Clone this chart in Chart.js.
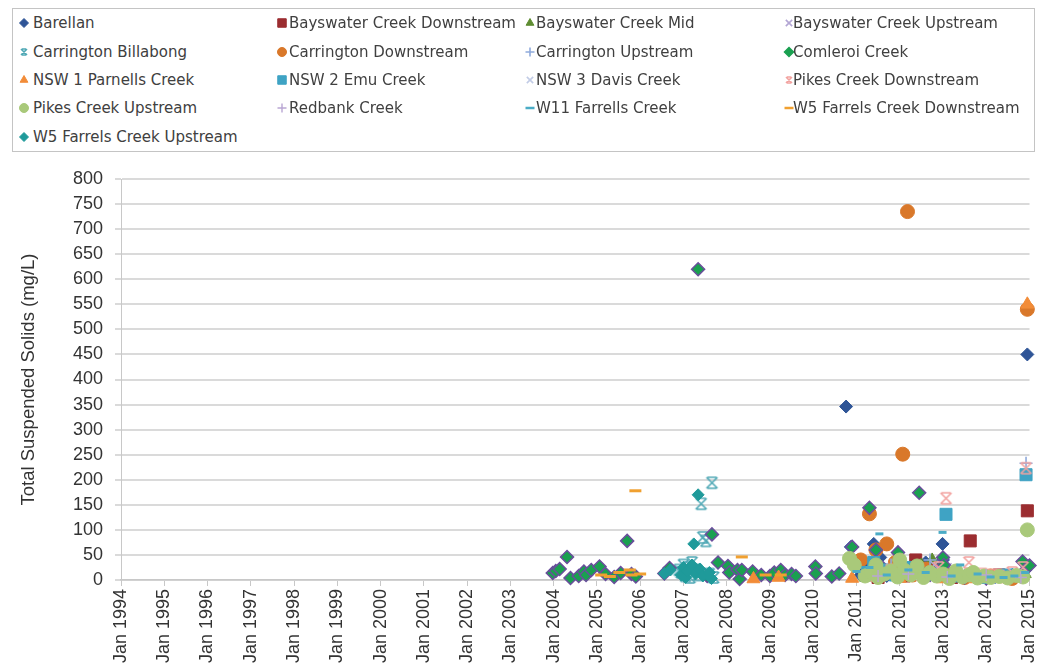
<!DOCTYPE html>
<html>
<head>
<meta charset="utf-8">
<script src="https://cdn.jsdelivr.net/npm/chart.js@4/dist/chart.umd.min.js"></script>
<style>
    body { margin: 0; background: #fff; width: 1039px; height: 672px; overflow: hidden; position: relative; }
    #tss-chart { position: absolute; left: 0; top: 0; }
    #legend { position: absolute; left: 12px; top: 8px; width: 1023px; height: 144px; border: 1px solid #c4c4c4; box-sizing: border-box; background: #fff; }
    .leg-mark { position: absolute; width: 16px; height: 16px; }
    .leg-text { position: absolute; font-family: "DejaVu Sans", sans-serif; font-size: 15px; color: #404040; white-space: nowrap; line-height: 18px; }
</style>
</head>
<body>
<canvas id="tss-chart" width="1039" height="672"></canvas>
<div id="legend"></div>
<script>
// sample dates as decimal years, values in mg/L
const seriesNames = [
    'Barellan', 'Bayswater Creek Downstream', 'Bayswater Creek Mid', 'Bayswater Creek Upstream',
    'Carrington Billabong', 'Carrington Downstream', 'Carrington Upstream', 'Comleroi Creek',
    'NSW 1 Parnells Creek', 'NSW 2 Emu Creek', 'NSW 3 Davis Creek', 'Pikes Creek Downstream',
    'Pikes Creek Upstream', 'Redbank Creek', 'W11 Farrells Creek', 'W5 Farrels Creek Downstream',
    'W5 Farrels Creek Upstream'
];

const barellan = [[2010.76, 346], [2010.87, 66], [2011.1, 10], [2011.3, 30], [2011.4, 72], [2011.55, 45],
    [2011.7, 8], [2011.9, 20], [2012.2, 15], [2012.4, 12], [2012.6, 35], [2012.99, 72], [2013.0, 40],
    [2013.05, 22], [2013.5, 8], [2013.8, 6], [2014.2, 5], [2014.6, 10], [2014.9, 20], [2014.95, 450]];
const bayswaterDown = [[2011.5, 5], [2011.75, 15], [2012.1, 8], [2012.37, 40], [2012.8, 20], [2013.2, 5],
    [2013.63, 78], [2014.3, 10], [2014.95, 138]];
const bayswaterMid = [[2011.2, 5], [2011.5, 10], [2012.0, 25], [2012.5, 30], [2012.75, 40], [2013.0, 15],
    [2013.4, 5], [2014.0, 8], [2014.9, 12]];
const bayswaterUp = [[2011.3, 10], [2011.9, 20], [2012.5, 15], [2012.8, 30], [2013.1, 25], [2013.7, 12],
    [2014.3, 8], [2014.9, 20]];
const carringtonBillabong = [[2006.9, 20], [2006.95, 15], [2007.0, 30], [2007.05, 8], [2007.1, 25],
    [2007.15, 5], [2007.2, 35], [2007.3, 20], [2007.35, 10], [2007.41, 152], [2007.45, 85], [2007.52, 78],
    [2007.6, 12], [2007.66, 194], [2007.7, 5]];
const carringtonDown = [[2011.1, 40], [2011.3, 132], [2011.45, 60], [2011.5, 20], [2011.7, 72], [2011.9, 35],
    [2012.07, 251], [2012.18, 735], [2012.3, 10], [2012.6, 22], [2013.0, 15], [2013.5, 5], [2014.1, 8],
    [2014.6, 3], [2014.95, 540]];
const carringtonUp = [[2011.25, 15], [2011.8, 30], [2012.4, 20], [2012.7, 40], [2013.0, 25], [2013.5, 10],
    [2014.2, 5], [2014.92, 233]];
const comleroi = [[2003.98, 14], [2004.05, 18], [2004.14, 22], [2004.31, 46], [2004.39, 4], [2004.58, 8],
    [2004.7, 17], [2004.75, 10], [2004.87, 20], [2005.06, 27], [2005.2, 12], [2005.4, 6], [2005.55, 14],
    [2005.7, 78], [2005.8, 12], [2005.9, 7], [2006.56, 13], [2006.68, 24], [2007.34, 620], [2007.55, 8],
    [2007.66, 91], [2007.8, 35], [2008.03, 28], [2008.06, 15], [2008.25, 20], [2008.3, 2], [2008.35, 20],
    [2008.6, 17], [2008.8, 10], [2009.0, 8], [2009.1, 15], [2009.25, 20], [2009.35, 10], [2009.5, 12],
    [2009.6, 8], [2010.05, 27], [2010.06, 13], [2010.43, 7], [2010.6, 13], [2010.9, 66], [2011.3, 144],
    [2011.45, 60], [2011.6, 25], [2011.96, 55], [2012.2, 20], [2012.45, 174], [2012.7, 10], [2013.0, 45],
    [2013.02, 30], [2013.5, 5], [2014.0, 3], [2014.4, 8], [2014.84, 37], [2015.0, 29]];
const nsw1Parnells = [[2008.62, 2], [2009.2, 5], [2010.9, 3], [2011.5, 5], [2012.0, 3], [2012.5, 8],
    [2013.0, 2], [2013.4, 5], [2013.75, 2], [2014.05, 4], [2014.2, 3], [2014.45, 2], [2014.7, 6],
    [2014.95, 550]];
const nsw2Emu = [[2011.25, 15], [2011.4, 35], [2011.6, 20], [2011.9, 10], [2012.3, 25], [2012.7, 12],
    [2013.07, 131], [2013.3, 8], [2013.9, 5], [2014.5, 10], [2014.92, 210]];
const nsw3Davis = [[2011.3, 5], [2011.8, 12], [2012.3, 8], [2012.9, 15], [2013.5, 10], [2014.1, 6], [2014.7, 12]];
const pikesDown = [[2011.3, 10], [2011.8, 20], [2012.4, 15], [2012.9, 25], [2013.07, 163], [2013.6, 35],
    [2013.9, 12], [2014.15, 10], [2014.3, 8], [2014.6, 15], [2014.85, 25], [2014.92, 223]];
const pikesUp = [[2010.84, 43], [2010.95, 30], [2011.2, 8], [2011.35, 15], [2011.45, 30], [2011.5, 5],
    [2011.65, 12], [2011.8, 18], [2011.95, 6], [2012.0, 40], [2012.1, 20], [2012.25, 10], [2012.4, 28],
    [2012.55, 5], [2012.7, 15], [2012.85, 8], [2013.0, 12], [2013.15, 3], [2013.3, 18], [2013.45, 6],
    [2013.6, 10], [2013.7, 15], [2013.8, 4], [2013.95, 8], [2014.1, 5], [2014.3, 7], [2014.5, 4], [2014.7, 9],
    [2014.85, 6], [2014.95, 100]];
const redbank = [[2011.5, 8], [2012.2, 12], [2013.1, 6], [2014.0, 10], [2014.8, 5]];
const w11Farrells = [[2011.0, 17], [2011.3, 25], [2011.53, 92], [2011.7, 10], [2012.2, 20], [2012.6, 15],
    [2012.99, 95], [2013.2, 8], [2013.4, 30], [2013.8, 12], [2014.1, 6], [2014.4, 5], [2014.65, 8],
    [2014.9, 15]];
const w5Down = [[2005.1, 10], [2005.3, 7], [2005.52, 15], [2005.76, 20], [2005.8, 10], [2005.89, 178],
    [2006.0, 12], [2007.5, 5], [2008.35, 46], [2008.9, 10], [2009.25, 10]];
const w5Up = [[2006.56, 13], [2006.7, 20], [2006.95, 10], [2007.0, 25], [2007.05, 5], [2007.1, 18],
    [2007.2, 30], [2007.24, 72], [2007.28, 12], [2007.34, 170], [2007.38, 22], [2007.45, 8], [2007.6, 15],
    [2007.65, 3]];

const allSeries = [barellan, bayswaterDown, bayswaterMid, bayswaterUp, carringtonBillabong, carringtonDown,
    carringtonUp, comleroi, nsw1Parnells, nsw2Emu, nsw3Davis, pikesDown, pikesUp, redbank, w11Farrells,
    w5Down, w5Up];

const yearTicks = { min: 1994, max: 2015 };

// Excel style star: an X with bars on top and bottom
function starMarker(color, size) {
    const c = document.createElement('canvas');
    c.width = size; c.height = size;
    const g = c.getContext('2d');
    g.strokeStyle = color;
    g.lineWidth = 1.6;
    const a = 2, b = size - 2;
    g.beginPath();
    g.moveTo(a, a); g.lineTo(b, b);
    g.moveTo(b, a); g.lineTo(a, b);
    g.moveTo(a + 1, a); g.lineTo(b - 1, a);
    g.moveTo(a + 1, b); g.lineTo(b - 1, b);
    g.stroke();
    return c;
}

const styles = [
    { shape: 'rectRot', r: 6.5, fill: '#2F5597' },
    { shape: 'rect', r: 8.5, fill: '#9B2D30' },
    { shape: 'triangle', r: 7, fill: '#5E8C31' },
    { shape: 'crossRot', r: 6, fill: '#B3A6D4', bw: 1.6 },
    { shape: 'star', r: 7, fill: '#4FA8B5' },
    { shape: 'circle', r: 7, fill: '#D9782A' },
    { shape: 'cross', r: 6.5, fill: '#8FAADC', bw: 1.6 },
    { shape: 'rectRot', r: 6.5, fill: '#1AA050', border: '#6A4E9C', bw: 1.5 },
    { shape: 'triangle', r: 7.5, fill: '#F28C38' },
    { shape: 'rect', r: 8.5, fill: '#3FA3C4' },
    { shape: 'crossRot', r: 6, fill: '#C2CCE6', bw: 1.6 },
    { shape: 'star', r: 7, fill: '#F2A3A0' },
    { shape: 'circle', r: 7, fill: '#A9C97A' },
    { shape: 'cross', r: 6, fill: '#B9A6D3', bw: 1.4 },
    { shape: 'line', r: 4, fill: '#4BACC6', bw: 3 },
    { shape: 'line', r: 6, fill: '#F0A030', bw: 3 },
    { shape: 'rectRot', r: 6, fill: '#1F9A9A' }
];

function pointStyleFor(st, size) {
    return st.shape === 'star' ? starMarker(st.fill, size) : st.shape;
}

const datasets = allSeries.map((pts, i) => {
    const st = styles[i];
    return {
        label: seriesNames[i],
        data: pts.map(p => ({ x: p[0], y: p[1] })),
        pointStyle: pointStyleFor(st, 15),
        pointRadius: st.r,
        pointBackgroundColor: st.fill,
        pointBorderColor: st.border || st.fill,
        pointBorderWidth: st.bw || 1,
        showLine: false,
        clip: false,
        order: allSeries.length - i
    };
});

const tickFont = { family: 'Liberation Sans', size: 18 };

const ctx = document.getElementById('tss-chart').getContext('2d');
new Chart(ctx, {
    type: 'scatter',
    data: { datasets: datasets },
    options: {
        responsive: false,
        animation: false,
        layout: { padding: { top: 179, left: 14, right: 9, bottom: 0 } },
        plugins: { legend: { display: false }, tooltip: { enabled: false } },
        scales: {
            x: {
                type: 'linear',
                min: yearTicks.min,
                max: yearTicks.max,
                afterFit: s => { s.height = 92; s.paddingLeft = 0; s.paddingRight = 0; },
                ticks: {
                    stepSize: 1,
                    autoSkip: false,
                    minRotation: 90,
                    maxRotation: 90,
                    padding: 3,
                    color: '#333',
                    font: tickFont,
                    callback: v => 'Jan ' + Math.round(v)
                },
                grid: { drawOnChartArea: false, color: '#c8c8c8', tickLength: 6 },
                border: { color: '#c8c8c8', width: 1.5 }
            },
            y: {
                min: 0,
                max: 800,
                afterFit: s => { s.width = 107; },
                ticks: {
                    stepSize: 50,
                    padding: 12,
                    color: '#333',
                    font: tickFont
                },
                grid: { color: '#dadada', lineWidth: 2, tickLength: 6 },
                border: { color: '#c8c8c8' },
                title: {
                    display: true,
                    text: 'Total Suspended Solids (mg/L)',
                    color: '#333',
                    font: { family: 'Liberation Sans', size: 18.5 }
                }
            }
        }
    }
});

// legend in four fixed columns, like the original
const legend = document.getElementById('legend');
const colMark = [24, 282, 530, 789];
const colText = [33, 289, 536, 793];
const rowY = [23, 52, 80, 108, 137];
seriesNames.forEach((name, i) => {
    const col = i % 4, row = Math.floor(i / 4);
    const st = styles[i];
    const mark = document.createElement('canvas');
    mark.width = 16; mark.height = 16;
    mark.className = 'leg-mark';
    mark.style.left = (colMark[col] - 13 - 8) + 'px';
    mark.style.top = (rowY[row] - 9 - 8) + 'px';
    const g = mark.getContext('2d');
    g.fillStyle = st.fill;
    g.strokeStyle = st.fill;
    g.lineWidth = st.shape === 'line' ? 2.5 : (st.bw || 1);
    Chart.helpers.drawPoint(g, {
        pointStyle: pointStyleFor(st, 10),
        radius: st.shape === 'rect' ? 6 : 4.5,
        borderWidth: g.lineWidth,
        rotation: 0
    }, 8, 8);
    legend.appendChild(mark);

    const txt = document.createElement('div');
    txt.className = 'leg-text';
    txt.textContent = name;
    txt.style.left = (colText[col] - 13) + 'px';
    txt.style.top = (rowY[row] - 9 - 9) + 'px';
    legend.appendChild(txt);
});
</script>
</body>
</html>
